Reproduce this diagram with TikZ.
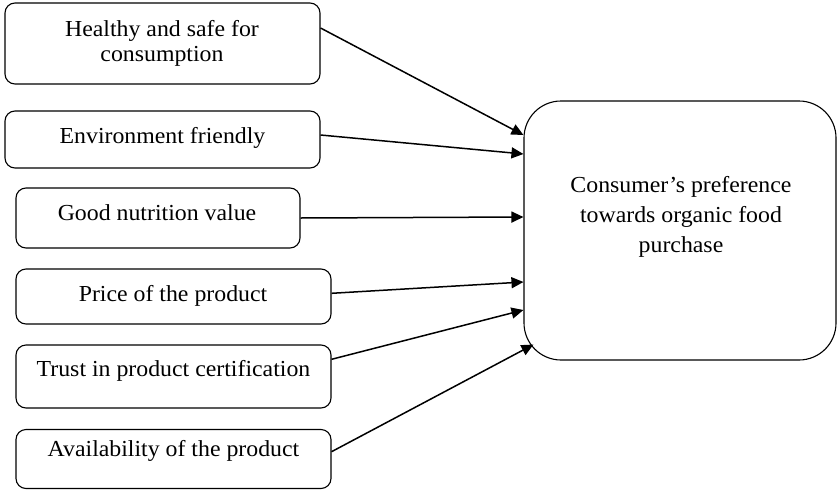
\documentclass[tikz,border=0pt]{standalone}
\usepackage{fontspec}
\setmainfont{Liberation Serif}[FakeStretch=1.04]
\usetikzlibrary{arrows.meta}
\begin{document}
\begin{tikzpicture}[x=1pt,y=-1pt,
  factor/.style={draw,line width=1.1pt,rounded corners=10pt,rectangle,inner sep=0pt},
  outcome/.style={draw,line width=1.1pt,rounded corners=37pt,rectangle,inner sep=0pt},
  txt/.style={inner sep=0pt,anchor=base,align=center,font=\fontsize{22.9}{25.7}\selectfont},
  bigtxt/.style={inner sep=0pt,anchor=base,align=center,font=\fontsize{22.9}{30}\selectfont},
  link/.style={line width=1.5pt,-{Triangle[length=12pt,width=11pt]}}]
\useasboundingbox (0,0) rectangle (837,490);

% factor boxes (left column)
\node[factor,minimum width=315pt,minimum height=81pt] (b1) at (162.5,43.5) {};
\node[factor,minimum width=315pt,minimum height=57pt] (b2) at (162.5,139.5) {};
\node[factor,minimum width=284pt,minimum height=60pt] (b3) at (158,218) {};
\node[factor,minimum width=315pt,minimum height=55pt] (b4) at (173.5,296.5) {};
\node[factor,minimum width=315pt,minimum height=63pt] (b5) at (173.5,376.5) {};
\node[factor,minimum width=315pt,minimum height=59pt] (b6) at (173.5,459) {};

% outcome box
\node[outcome,minimum width=312pt,minimum height=259pt] (big) at (680,230.5) {};

% labels (base anchor sits on the last line of each label)
\node[txt] (t1) at (162,61.7) {Healthy and safe for\\consumption};
\node[txt] (t2) at (162.5,143) {Environment friendly};
\node[txt] (t3) at (157,220) {Good nutrition value};
\node[txt] (t4) at (173,301) {Price of the product};
\node[txt] (t5) at (173.5,376.7) {Trust in product certification};
\node[txt] (t6) at (173.5,456.7) {Availability of the product};
\node[bigtxt] (tb) at (681,252) {Consumer’s preference\\towards organic food\\purchase};

% connectors
\draw[link] ([yshift=15.5pt]b1.east) -- ([yshift=95.5pt]big.west);
\draw[link] ([yshift=4.5pt]b2.east) -- ([yshift=76.5pt]big.west);
\draw[link] (b3.east) -- ([yshift=13.5pt]big.west);
\draw[link] ([yshift=3.2pt]b4.east) -- ([yshift=-51.5pt]big.west);
\draw[link] ([yshift=17.2pt]b5.east) -- ([yshift=-79.5pt]big.west);
\draw[link] ([yshift=7.3pt]b6.east) -- ([xshift=10pt,yshift=16pt]big.south west);
\end{tikzpicture}
\end{document}
